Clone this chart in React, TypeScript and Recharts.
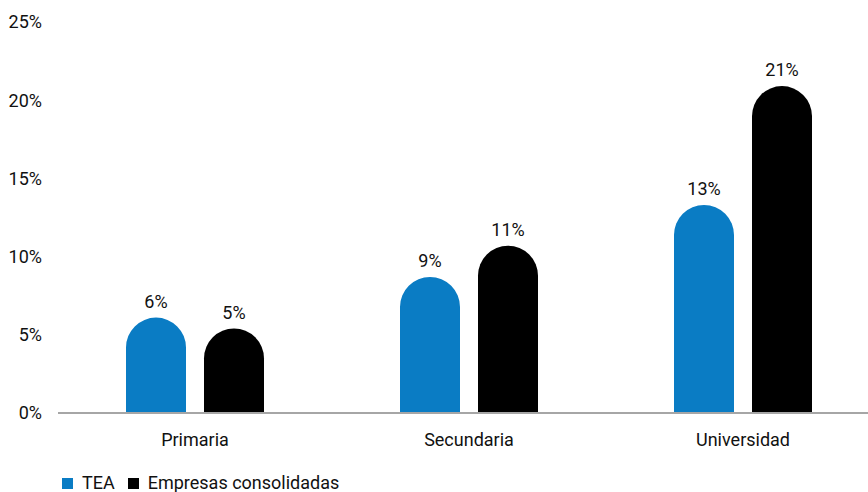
import React from "react";
import { BarChart, Bar, XAxis, YAxis, LabelList, Legend } from "recharts";

const categories = ["Primaria", "Secundaria", "Universidad"];
const teaValues = [6.1, 8.7, 13.3];
const empresasValues = [5.4, 10.7, 20.9];
const yTicks = [0, 5, 10, 15, 20, 25];

const data = categories.map((c, i) => ({
  name: c,
  tea: teaValues[i],
  emp: empresasValues[i],
}));

const FONT = "Roboto, sans-serif";
const BLUE = "#0A7CC4";

const legendContent = () => (
  <div style={{ display: "flex", alignItems: "center", fontFamily: FONT, fontSize: 18, color: "#111", paddingLeft: 62, lineHeight: "20px" }}>
    <span style={{ width: 11, height: 11, background: BLUE, display: "inline-block", marginRight: 9 }} />
    <span style={{ marginRight: 13 }}>TEA</span>
    <span style={{ width: 11, height: 11, background: "#000", display: "inline-block", marginRight: 9 }} />
    <span>Empresas consolidadas</span>
  </div>
);

export default function App() {
  return (
    <div style={{ position: "absolute", left: 0, top: 0, width: 868, height: 492, overflow: "hidden", background: "#fff" }}>
      <BarChart
        width={880}
        height={492}
        data={data}
        margin={{ top: 22, right: 0, bottom: 0, left: 0 }}
        barSize={60}
        barGap={18}
      >
        <XAxis
          dataKey="name"
          tickLine={false}
          axisLine={{ stroke: "#A6A6A6", strokeWidth: 2 }}
          tick={{ fill: "#111", fontSize: 18, fontFamily: FONT }}
          tickMargin={14}
          height={47}
        />
        <YAxis
          domain={[0, 25]}
          ticks={yTicks}
          tickFormatter={(v) => `${v}%`}
          axisLine={false}
          tickLine={false}
          width={58}
          tickMargin={10}
          tick={{ fill: "#111", fontSize: 18, fontFamily: FONT }}
        />
        <Legend verticalAlign="bottom" align="left" content={legendContent} wrapperStyle={{ left: 0, top: 473, height: 32 }} />
        <Bar dataKey="tea" name="TEA" fill={BLUE} radius={[30, 30, 0, 0]} isAnimationActive={false}>
          <LabelList dataKey="tea" position="top" offset={10} formatter={(v) => `${Math.round(Number(v))}%`} style={{ fill: "#111", fontSize: 18, fontFamily: FONT }} />
        </Bar>
        <Bar dataKey="emp" name="Empresas consolidadas" fill="#000" radius={[30, 30, 0, 0]} isAnimationActive={false}>
          <LabelList dataKey="emp" position="top" offset={10} formatter={(v) => `${Math.round(Number(v))}%`} style={{ fill: "#111", fontSize: 18, fontFamily: FONT }} />
        </Bar>
      </BarChart>
    </div>
  );
}
